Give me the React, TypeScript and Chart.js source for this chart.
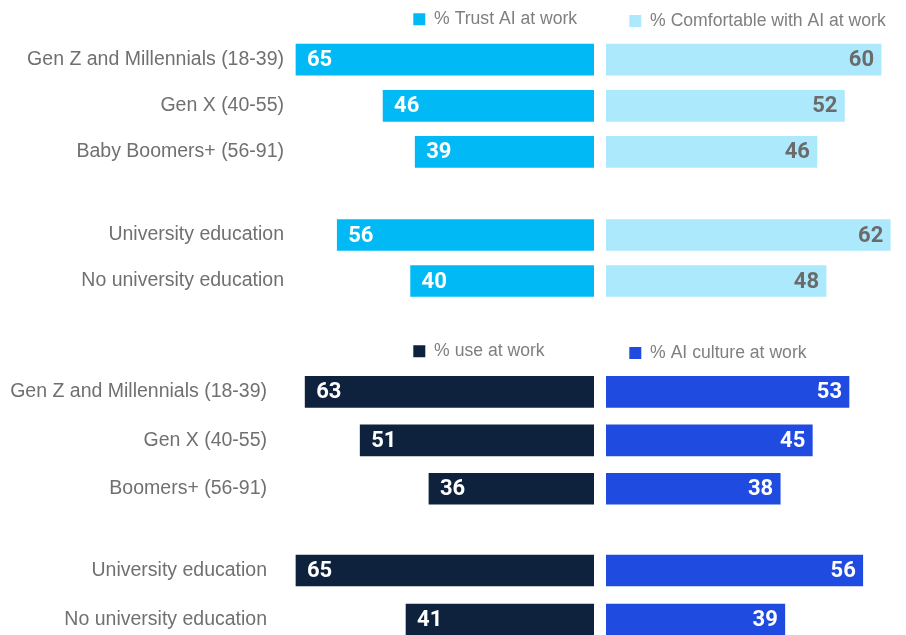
import React, { useEffect, useRef } from "react";
import { Chart, registerables } from "chart.js";

Chart.register(...registerables);

// ---------------- data ----------------
const topGenCategories = ["Gen Z and Millennials (18-39)", "Gen X (40-55)", "Baby Boomers+ (56-91)"];
const topEduCategories = ["University education", "No university education"];
const bottomGenCategories = ["Gen Z and Millennials (18-39)", "Gen X (40-55)", "Boomers+ (56-91)"];
const bottomEduCategories = ["University education", "No university education"];

const trustGen = [65, 46, 39];
const trustEdu = [56, 40];
const comfortableGen = [60, 52, 46];
const comfortableEdu = [62, 48];
const useGen = [63, 51, 36];
const useEdu = [65, 41];
const cultureGen = [53, 45, 38];
const cultureEdu = [56, 39];

const seriesNames = [
  "% Trust AI at work",
  "% Comfortable with AI at work",
  "% use at work",
  "% AI culture at work",
];

// ---------------- style ----------------
const PX = 4.585; // pixels per percentage point
const BAR = 31;
const TRUST = "#00b9f5";
const COMFORT = "#ade9fd";
const USE = "#0f223d";
const CULTURE = "#1f4be0";
const LABEL_FONT = "'Liberation Sans', Arial, sans-serif";
const LABEL_COLOR = "#707070";
const LEGEND_COLOR = "#7f7f7f";
const LEGEND_SIZE = 17.6;
const LEGEND_PAD = 10;

const legendPlacer = {
  id: "legendPlacer",
  afterLayout(chart: any, _args: any, opts: any) {
    const lg = chart.legend;
    if (!lg || !opts || opts.x == null) return;
    lg.left = opts.x - LEGEND_PAD;
    lg.top = opts.y - LEGEND_PAD - LEGEND_SIZE / 2;
  },
};

const valueLabels = {
  id: "valueLabels",
  afterDatasetsDraw(chart: any, _args: any, opts: any) {
    const ctx = chart.ctx;
    const meta = chart.getDatasetMeta(0);
    const data = chart.data.datasets[0].data;
    ctx.save();
    ctx.font = "bold 22px Roboto, 'Liberation Sans', sans-serif";
    ctx.fillStyle = opts.color;
    ctx.textBaseline = "middle";
    meta.data.forEach((bar: any, i: number) => {
      const { x, y } = bar.getProps(["x", "y"], true);
      if (opts.side === "left") {
        ctx.textAlign = "left";
        ctx.fillText(String(data[i]), x + 11, y + 1);
      } else {
        ctx.textAlign = "right";
        ctx.fillText(String(data[i]), x - 7, y + 1);
      }
    });
    ctx.restore();
  },
};

type PanelProps = {
  side: "left" | "right";
  left: number;
  top: number;
  width: number;
  height: number;
  categories: string[];
  values: number[];
  name: string;
  color: string;
  valueColor: string;
  axisMax: number;
  tickPadding?: number;
  legend?: { x: number; y: number };
};

function BarPanel(p: PanelProps) {
  const ref = useRef<HTMLCanvasElement>(null);
  useEffect(() => {
    const canvas = ref.current!;
    const isLeft = p.side === "left";
    const chart = new Chart(canvas, {
      type: "bar",
      data: {
        labels: p.categories,
        datasets: [
          {
            label: p.name,
            data: p.values,
            backgroundColor: p.color,
            borderWidth: 0,
            barThickness: BAR,
          },
        ],
      },
      options: {
        indexAxis: "y",
        responsive: false,
        animation: false,
        devicePixelRatio: 1,
        events: [],
        layout: { padding: 0 },
        scales: {
          x: { type: "linear", min: 0, max: p.axisMax, reverse: isLeft, display: false },
          y: isLeft
            ? {
                display: true,
                grid: { display: false, drawTicks: false },
                border: { display: false },
                ticks: {
                  padding: p.tickPadding,
                  color: LABEL_COLOR,
                  font: { family: LABEL_FONT, size: 19.5 },
                },
                afterFit: (s: any) => {
                  s.width = p.width - p.axisMax * PX;
                  s.paddingTop = 0;
                  s.paddingBottom = 0;
                },
              }
            : { display: false },
        },
        plugins: {
          legend: p.legend
            ? {
                display: true,
                position: "top",
                align: "start",
                labels: {
                  boxWidth: 12,
                  boxHeight: 12,
                  padding: LEGEND_PAD,
                  color: LEGEND_COLOR,
                  font: { family: LABEL_FONT, size: LEGEND_SIZE },
                },
              }
            : { display: false },
          tooltip: { enabled: false },
          legendPlacer: p.legend ? { x: p.legend.x - p.left, y: p.legend.y - p.top } : {},
          valueLabels: { side: p.side, color: p.valueColor },
        } as any,
      },
      plugins: [legendPlacer, valueLabels],
    } as any);
    return () => chart.destroy();
  }, []);
  return (
    <canvas
      ref={ref}
      width={p.width}
      height={p.height}
      style={{ position: "absolute", left: p.left, top: p.top, width: p.width, height: p.height }}
    />
  );
}

const RIGHT_W = 300;

export default function App() {
  return (
    <div
      style={{
        position: "absolute",
        left: 0,
        top: 0,
        width: 906,
        height: 635,
        overflow: "hidden",
        background: "#ffffff",
      }}
    >
      {/* top panel */}
      <BarPanel side="left" left={0} top={-1} width={594} height={176} categories={topGenCategories}
        values={trustGen} name={seriesNames[0]} color={TRUST} valueColor="#ffffff" axisMax={66}
        tickPadding={7.4} legend={{ x: 413.3, y: 19.2 }} />
      <BarPanel side="right" left={606} top={-1} width={RIGHT_W} height={176} categories={topGenCategories}
        values={comfortableGen} name={seriesNames[1]} color={COMFORT} valueColor="#6b6b6b"
        axisMax={RIGHT_W / PX} legend={{ x: 629.3, y: 21 }} />
      <BarPanel side="left" left={0} top={212} width={594} height={92} categories={topEduCategories}
        values={trustEdu} name={seriesNames[0]} color={TRUST} valueColor="#ffffff" axisMax={66}
        tickPadding={7.4} />
      <BarPanel side="right" left={606} top={212} width={RIGHT_W} height={92} categories={topEduCategories}
        values={comfortableEdu} name={seriesNames[1]} color={COMFORT} valueColor="#6b6b6b"
        axisMax={RIGHT_W / PX} />

      {/* bottom panel */}
      <BarPanel side="left" left={0} top={330} width={594} height={183} categories={bottomGenCategories}
        values={useGen} name={seriesNames[2]} color={USE} valueColor="#ffffff" axisMax={70}
        tickPadding={6} legend={{ x: 413.3, y: 351.3 }} />
      <BarPanel side="right" left={606} top={330} width={RIGHT_W} height={183} categories={bottomGenCategories}
        values={cultureGen} name={seriesNames[3]} color={CULTURE} valueColor="#ffffff"
        axisMax={RIGHT_W / PX} legend={{ x: 629.3, y: 353 }} />
      <BarPanel side="left" left={0} top={546} width={594} height={98} categories={bottomEduCategories}
        values={useEdu} name={seriesNames[2]} color={USE} valueColor="#ffffff" axisMax={70}
        tickPadding={6} />
      <BarPanel side="right" left={606} top={546} width={RIGHT_W} height={98} categories={bottomEduCategories}
        values={cultureEdu} name={seriesNames[3]} color={CULTURE} valueColor="#ffffff"
        axisMax={RIGHT_W / PX} />
    </div>
  );
}
